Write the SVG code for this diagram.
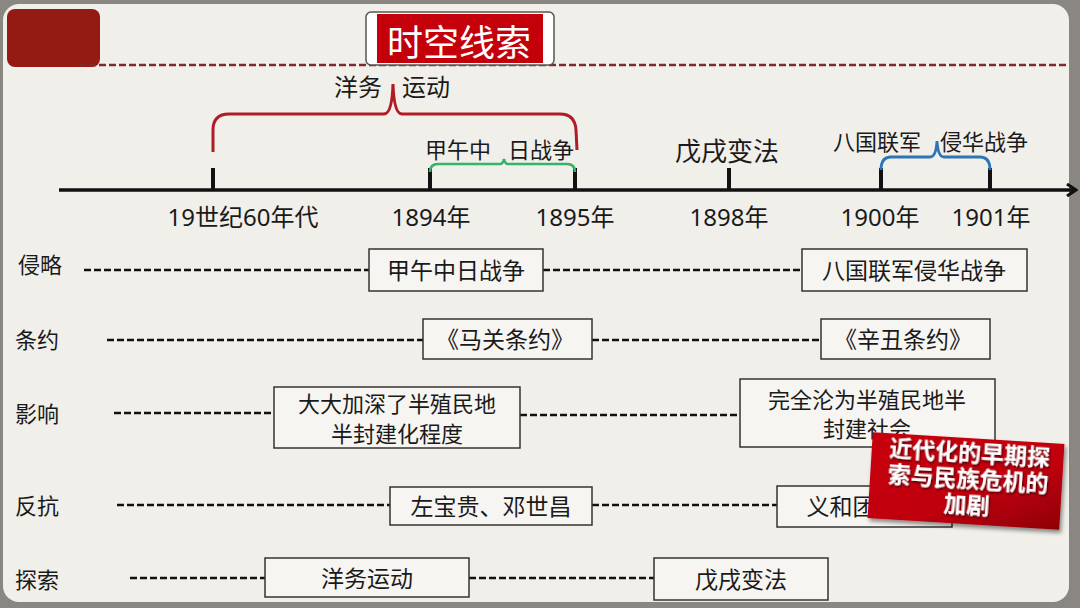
<svg xmlns="http://www.w3.org/2000/svg" width="1080" height="608" viewBox="0 0 1080 608">
<defs>
<style>
text{font-family:"Noto Sans","Noto Sans CJK SC",sans-serif;fill:#1a1a1a}
.lbl{font-size:22px;dominant-baseline:central}
.bx{fill:#f6f5f1;stroke:#333;stroke-width:1.5}
.bt{font-size:23px;text-anchor:middle;dominant-baseline:central}
.bt2{font-size:22px;text-anchor:middle}
.dash{stroke:#111;stroke-width:2.4;stroke-dasharray:7 3;fill:none}
.tick{stroke:#111;stroke-width:4}
.yr{font-size:24px;text-anchor:middle}
.ev{font-size:22px}
.rl{font-size:23px;font-weight:bold;fill:#fff;text-anchor:middle;dominant-baseline:central}
</style>
<marker id="arr" viewBox="0 0 12 14" refX="10" refY="7" markerWidth="12" markerHeight="14" markerUnits="userSpaceOnUse" orient="auto">
<path d="M1,1 L10,7 L1,13" fill="none" stroke="#111" stroke-width="3"/>
</marker>
<linearGradient id="rg" x1="0" y1="0" x2="1" y2="1">
<stop offset="0" stop-color="#c8000c"/>
<stop offset="0.6" stop-color="#c00008"/>
<stop offset="1" stop-color="#8e0006"/>
</linearGradient>
<filter id="sh" x="-10%" y="-10%" width="130%" height="140%">
<feDropShadow dx="2" dy="3" stdDeviation="2" flood-color="#000" flood-opacity="0.45"/>
</filter>
<filter id="tsh" x="-10%" y="-20%" width="120%" height="150%">
<feDropShadow dx="1" dy="1.5" stdDeviation="0.8" flood-color="#300" flood-opacity="0.9"/>
</filter>
</defs>

<rect x="0" y="0" width="1080" height="608" fill="#8a8682"/>
<rect x="3" y="4" width="1066" height="598" rx="16" fill="#f1efea"/>

<g id="header">
<rect x="7" y="9" width="93" height="58" rx="8" fill="#941a14"/>
<line x1="79" y1="65" x2="1067" y2="65" stroke="#7e2a2a" stroke-width="2.6" stroke-dasharray="7 3"/>
<rect x="366" y="12" width="188" height="53" rx="5" fill="#fff" stroke="#555" stroke-width="1.5"/>
<rect x="377" y="14" width="166" height="49" fill="#c4000a"/>
<text x="459" y="56" font-size="36" text-anchor="middle" style="fill:#fff">时空线索</text>
</g>

<g id="timeline">
<line x1="59" y1="190" x2="1076" y2="190" stroke="#111" stroke-width="3.5" marker-end="url(#arr)"/>
<line class="tick" x1="213" y1="168" x2="213" y2="190"/>
<line class="tick" x1="430" y1="168" x2="430" y2="190"/>
<line class="tick" x1="575" y1="168" x2="575" y2="190"/>
<line class="tick" x1="729" y1="168" x2="729" y2="190"/>
<line class="tick" x1="881" y1="168" x2="881" y2="190"/>
<line class="tick" x1="990" y1="168" x2="990" y2="190"/>
<text class="yr" x="243" y="226">19世纪60年代</text>
<text class="yr" x="431" y="226">1894年</text>
<text class="yr" x="575" y="226">1895年</text>
<text class="yr" x="729" y="226">1898年</text>
<text class="yr" x="880" y="226">1900年</text>
<text class="yr" x="991" y="226">1901年</text>
</g>

<g id="brackets">
<path d="M213,152 L213,130 Q213,114 229,114 L384,114 Q392,114 393,84 Q394,114 402,114 L560,114 Q575,114 576,130 L577,150" fill="none" stroke="#b01c26" stroke-width="3"/>
<path d="M430,172 Q430,164 438,164 L500,164 Q503,164 504,159 Q505,164 508,164 L567,164 Q575,164 575,172" fill="none" stroke="#33b36b" stroke-width="2.6"/>
<path d="M881,170 Q881,157 891,157 L930,157 Q936,157 937,141 Q938,157 944,157 L980,157 Q990,157 990,170" fill="none" stroke="#2e75b6" stroke-width="2.8"/>
<text x="334" y="96" font-size="24">洋务</text>
<text x="402" y="96" font-size="24">运动</text>
<text class="ev" x="425" y="158">甲午中</text>
<text class="ev" x="508" y="158">日战争</text>
<text x="727" y="161" font-size="26" text-anchor="middle">戊戌变法</text>
<text class="ev" x="833" y="150">八国联军</text>
<text class="ev" x="940" y="150">侵华战争</text>
</g>

<g id="connectors">
<line class="dash" x1="84" y1="270" x2="369" y2="270"/>
<line class="dash" x1="543" y1="270" x2="802" y2="270"/>
<line class="dash" x1="107" y1="340" x2="423" y2="340"/>
<line class="dash" x1="592" y1="340" x2="821" y2="340"/>
<line class="dash" x1="114" y1="413" x2="274" y2="413"/>
<line class="dash" x1="520" y1="415" x2="740" y2="415"/>
<line class="dash" x1="117" y1="505" x2="390" y2="505"/>
<line class="dash" x1="592" y1="505" x2="777" y2="505"/>
<line class="dash" x1="130" y1="578" x2="265" y2="578"/>
<line class="dash" x1="469" y1="578" x2="654" y2="578"/>
</g>

<g id="row-labels">
<text class="lbl" x="18" y="264">侵略</text>
<text class="lbl" x="15" y="339">条约</text>
<text class="lbl" x="15" y="413">影响</text>
<text class="lbl" x="15" y="505">反抗</text>
<text class="lbl" x="15" y="579">探索</text>
</g>

<g id="n-jiawu"><rect class="bx" x="369" y="249" width="174" height="42"/><text class="bt" x="456" y="270">甲午中日战争</text></g>
<g id="n-baguo"><rect class="bx" x="802" y="249" width="225" height="42"/><text class="bt" x="914" y="270">八国联军侵华战争</text></g>
<g id="n-maguan"><rect class="bx" x="423" y="319" width="169" height="40"/><text class="bt" x="505" y="339">《马关条约》</text></g>
<g id="n-xinchou"><rect class="bx" x="821" y="319" width="169" height="40"/><text class="bt" x="903" y="339">《辛丑条约》</text></g>
<g id="n-yingxiang1"><rect class="bx" x="274" y="387" width="246" height="61"/><text class="bt2" x="397" y="412">大大加深了半殖民地</text><text class="bt2" x="397" y="442">半封建化程度</text></g>
<g id="n-yingxiang2"><rect class="bx" x="740" y="379" width="255" height="68"/><text class="bt2" x="867" y="408">完全沦为半殖民地半</text><text class="bt2" x="867" y="437">封建社会</text></g>
<g id="n-zuo"><rect class="bx" x="390" y="487" width="202" height="38"/><text class="bt" x="491" y="506">左宝贵、邓世昌</text></g>
<g id="n-yihetuan"><rect class="bx" x="777" y="486" width="175" height="41"/><text class="bt" x="864" y="506">义和团运动</text></g>
<g id="n-yangwu"><rect class="bx" x="265" y="558" width="204" height="39"/><text class="bt" x="367" y="578">洋务运动</text></g>
<g id="n-wuxu"><rect class="bx" x="654" y="558" width="174" height="42"/><text class="bt" x="741" y="579">戊戌变法</text></g>

<g id="stamp" transform="rotate(3.5 966 481)">
<rect x="870" y="438" width="192" height="86" fill="url(#rg)" filter="url(#sh)"/>
<g filter="url(#tsh)">
<text class="rl" x="968" y="452">近代化的早期探</text>
<text class="rl" x="968" y="478">索与民族危机的</text>
<text class="rl" x="968" y="504">加剧</text>
</g>
</g>
</svg>
